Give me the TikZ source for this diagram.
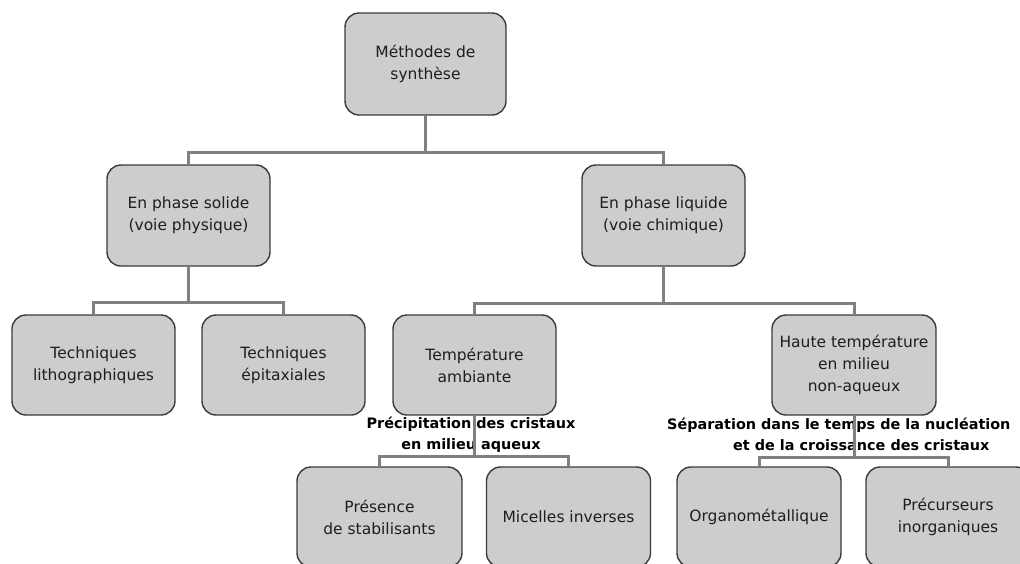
\documentclass[tikz,border=0pt]{standalone}
\usepackage{fontspec}
\setmainfont{DejaVu Sans}
\definecolor{boxfill}{HTML}{CDCDCD}
\definecolor{boxline}{HTML}{3A3A3A}
\definecolor{conncol}{HTML}{808080}
\definecolor{textcol}{HTML}{1E1E1E}
\begin{document}
\begin{tikzpicture}[x=1pt,y=-1pt,
  box/.style={draw=boxline, fill=boxfill, rounded corners=14pt, line width=1.4pt,
    minimum width=163pt, minimum height=100pt, inner sep=0pt, align=center,
    font=\fontsize{15.5}{22}\selectfont, text=textcol},
  conn/.style={draw=conncol, line width=3pt},
  lab/.style={font=\fontsize{14.4}{20.5}\selectfont\bfseries, inner sep=0pt, text=black}]
\useasboundingbox (0,0) rectangle (1020,563);
\clip (0,0) rectangle (1020,563);
% nodes
\node[box, minimum width=161pt, minimum height=102pt] (root) at (425.5,64) {Méthodes de\\synthèse};
\node[box, minimum height=101pt] (solid) at (188.5,215.5) {En phase solide\\(voie physique)};
\node[box, minimum height=101pt] (liquid) at (663.5,215.5) {En phase liquide\\(voie chimique)};
\node[box] (litho) at (93.5,365) {Techniques\\lithographiques};
\node[box] (epi) at (283.5,365) {Techniques\\épitaxiales};
\node[box] (amb) at (474.5,365) {Température\\ambiante};
\node[box, minimum width=164pt] (haute) at (854,365) {Haute température\\en milieu\\non-aqueux};
\node[box, minimum width=165pt] (pres) at (379.5,517) {Présence\\de stabilisants};
\node[box, minimum width=164pt] (mic) at (568.5,517) {Micelles inverses};
\node[box, minimum width=164pt] (org) at (759,517) {Organométallique};
\node[box, minimum width=164pt] (prec) at (948,517) {Précurseurs\\inorganiques};
% labels
\node[lab, align=center] (l1) at (471,434.5) {Précipitation des cristaux\\en milieu aqueux};
\node[lab, align=left, anchor=west] (l2) at (667,434.5) {Séparation dans le temps de la nucléation\\\hspace*{66pt}et de la croissance des cristaux};
% bus coordinates
\coordinate (j1) at (425.5,152);
\coordinate (j2) at (188.5,302);
\coordinate (j3) at (663.5,303);
\coordinate (j4) at (474.5,456);
\coordinate (j5) at (854,457);
% connectors
\draw[conn] (root.south) -- (j1);
\draw[conn] (solid.north) |- (j1) -| (liquid.north);
\draw[conn] (solid.south) -- (j2);
\draw[conn] (litho.north) |- (j2) -| (epi.north);
\draw[conn] (liquid.south) -- (j3);
\draw[conn] (amb.north) |- (j3) -| (haute.north);
\draw[conn] (amb.south) -- (j4);
\draw[conn] (pres.north) |- (j4) -| (mic.north);
\draw[conn] (haute.south) -- (j5);
\draw[conn] (org.north) |- (j5) -| (prec.north);
\end{tikzpicture}
\end{document}
